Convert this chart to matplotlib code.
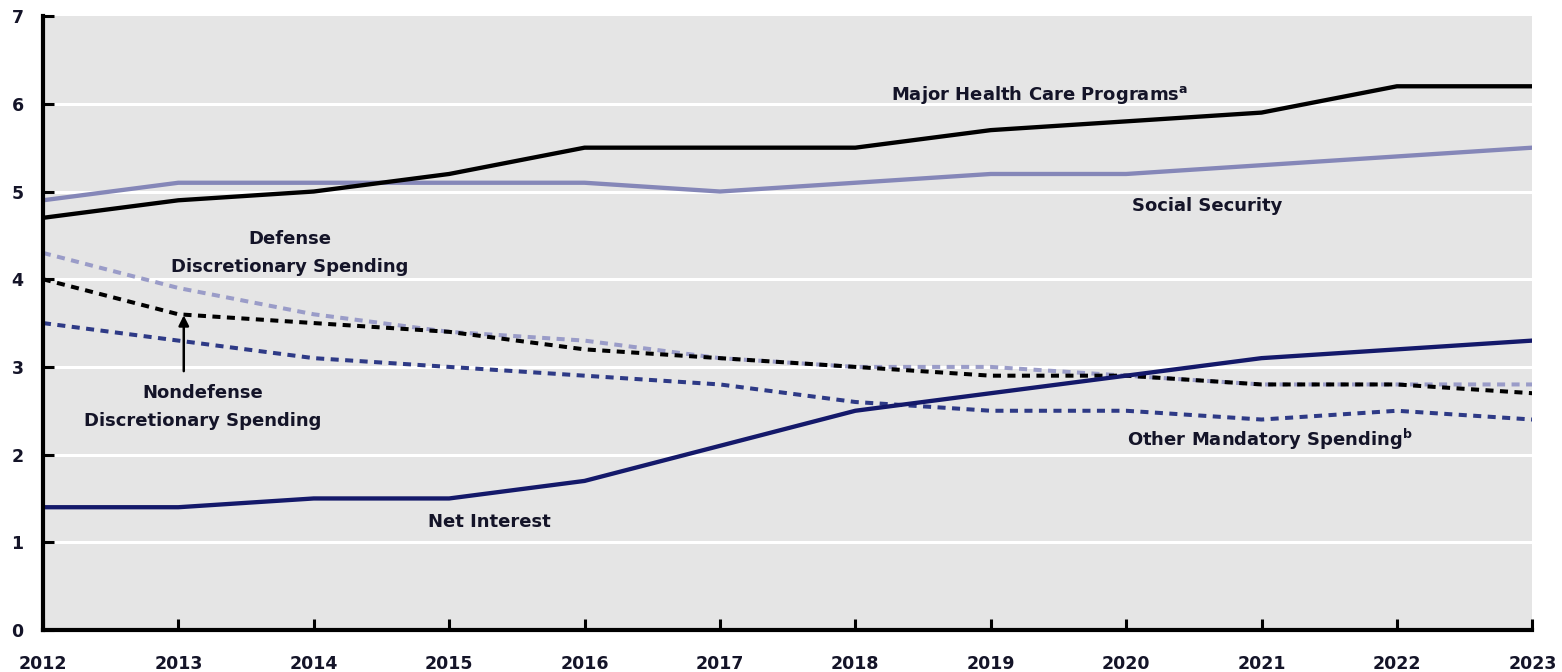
import matplotlib.pyplot as plt

plt.rcParams['font.family'] = ['DejaVu Sans']

years = list(range(2012, 2024))
health = [4.7, 4.9, 5.0, 5.2, 5.5, 5.5, 5.5, 5.7, 5.8, 5.9, 6.2, 6.2]
social_security = [4.9, 5.1, 5.1, 5.1, 5.1, 5.0, 5.1, 5.2, 5.2, 5.3, 5.4, 5.5]
defense = [4.3, 3.9, 3.6, 3.4, 3.3, 3.1, 3.0, 3.0, 2.9, 2.8, 2.8, 2.8]
nondefense = [4.0, 3.6, 3.5, 3.4, 3.2, 3.1, 3.0, 2.9, 2.9, 2.8, 2.8, 2.7]
other_mandatory = [3.5, 3.3, 3.1, 3.0, 2.9, 2.8, 2.6, 2.5, 2.5, 2.4, 2.5, 2.4]
net_interest = [1.4, 1.4, 1.5, 1.5, 1.7, 2.1, 2.5, 2.7, 2.9, 3.1, 3.2, 3.3]

fig = plt.figure(figsize=(15.62, 6.72), dpi=100)
ax = fig.add_axes([0.0275, 0.0625, 0.9535, 0.9135])
ax.set_facecolor('#e5e5e5')

# lignes de grille blanches
for y in range(1, 7):
    ax.axhline(y, color='white', lw=2.2, zorder=1)

dash = (2.0, 1.6)
ax.plot(years, defense, color='#9a9cc8', lw=2.9, dashes=dash, zorder=3)
ax.plot(years, other_mandatory, color='#2e3a86', lw=2.9, dashes=dash, zorder=3)
ax.plot(years, nondefense, color='black', lw=2.9, dashes=dash, zorder=4)
ax.plot(years, social_security, color='#8587b8', lw=3.1, zorder=5)
ax.plot(years, health, color='black', lw=3.1, zorder=5)
ax.plot(years, net_interest, color='#14196a', lw=3.1, zorder=5)

# étiquettes
tc = '#141428'
fs = 13
ax.text(2019.36, 6.1, 'Major Health Care Programs$^{\\mathregular{a}}$', ha='center', va='center',
        fontsize=fs, color=tc, fontweight='bold', zorder=6)
ax.text(2020.6, 4.83, 'Social Security', ha='center', va='center', fontsize=fs, color=tc,
        fontweight='bold', zorder=6)
ax.text(2013.82, 4.3, 'Defense\nDiscretionary Spending', ha='center', va='center', fontsize=fs,
        color=tc, fontweight='bold', linespacing=1.7, zorder=6)
ax.text(2013.18, 2.54, 'Nondefense\nDiscretionary Spending', ha='center', va='center', fontsize=fs,
        color=tc, fontweight='bold', linespacing=1.7, zorder=6)
ax.text(2015.3, 1.23, 'Net Interest', ha='center', va='center', fontsize=fs, color=tc,
        fontweight='bold', zorder=6)
ax.text(2021.06, 2.17, 'Other Mandatory Spending$^{\\mathregular{b}}$', ha='center', va='center',
        fontsize=fs, color=tc, fontweight='bold', zorder=6)
ax.annotate('', xy=(2013.04, 3.62), xytext=(2013.04, 2.92),
            arrowprops=dict(arrowstyle='-|>', color='black', lw=1.8, mutation_scale=15), zorder=7)

ax.set_xlim(2012, 2023)
ax.set_ylim(0, 7)
ax.set_xticks(years)
ax.set_yticks(range(0, 8))
ax.tick_params(axis='both', direction='in', length=8, width=2.2, labelsize=12.5, colors='black')
ax.tick_params(axis='y', pad=14)
ax.tick_params(axis='x', pad=18)
for lab in ax.get_xticklabels() + ax.get_yticklabels():
    lab.set_fontweight('bold')
    lab.set_color('#141428')

for s in ['top', 'right']:
    ax.spines[s].set_visible(False)
for s in ['left', 'bottom']:
    ax.spines[s].set_linewidth(3)
    ax.spines[s].set_zorder(8)

plt.savefig('out.png', dpi=100)
